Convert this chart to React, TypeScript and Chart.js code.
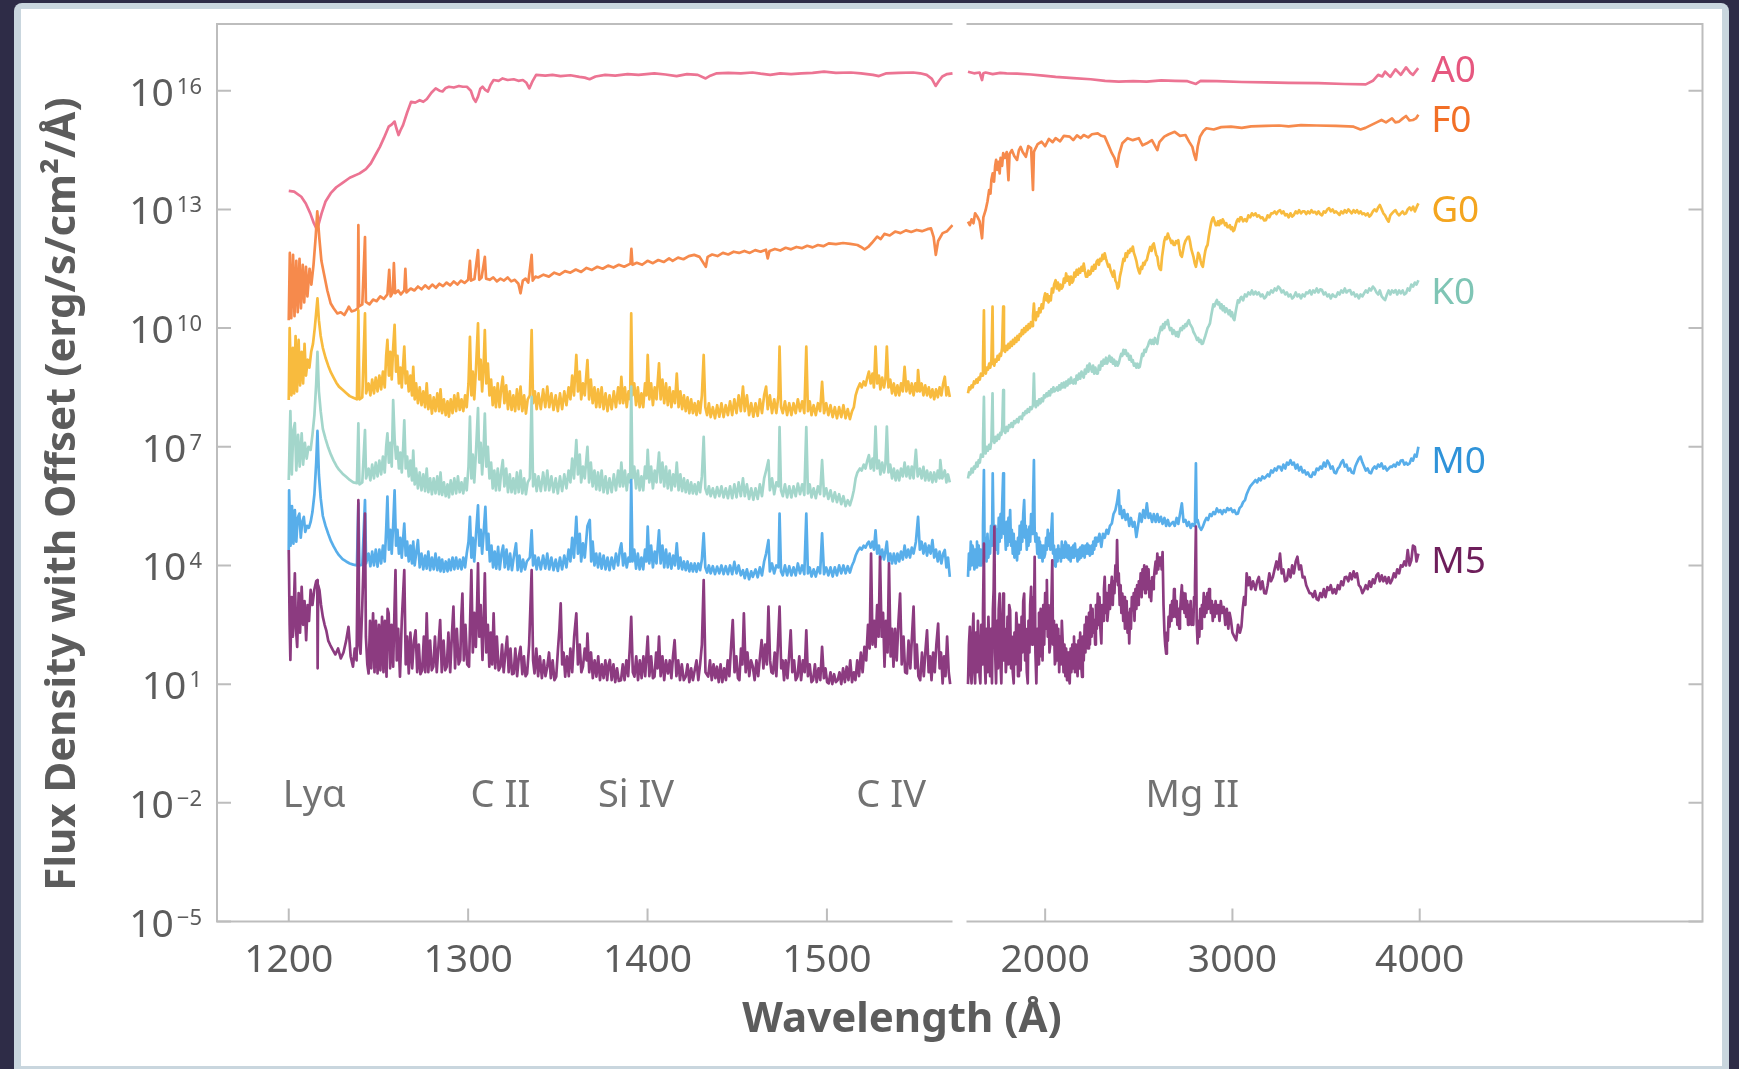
import React, { useEffect, useRef } from 'react';
import { Chart, registerables } from 'chart.js';
Chart.register(...registerables);

// Each series: flat list of pairs  wavelength (Å), log10 flux density (with offset)
const A0_LEFT = [1200,13.47,1203,13.45,1207,13.32,1209.5,13.15,1212,12.9,1214,12.65,1215.4,12.52,1216.5,12.6,1218.3,12.9,1220.5,13.2,1223.4,13.41,1226.5,13.56,1229.6,13.66,1234,13.8,1239.5,13.91,1243,14.02,1245.7,14.16,1248,14.35,1250.8,14.58,1253,14.8,1255.7,15.09,1257.5,15.15,1259,15.22,1260,15.05,1261.2,14.88,1262.3,15.0,1263.7,15.13,1266,15.45,1268.2,15.72,1270.5,15.7,1273,15.76,1275,15.72,1277,15.79,1279.5,15.95,1281.9,16.06,1284,16.0,1285.7,15.98,1287.5,16.07,1289.3,16.1,1292,16.08,1294.9,16.12,1297,16.1,1299.3,16.1,1301.5,16.0,1303,15.8,1304.2,15.72,1305.5,15.85,1306.8,16.05,1308,16.1,1309.5,16.02,1311,15.98,1312.5,16.15,1314.2,16.27,1317,16.25,1319.2,16.31,1322,16.27,1325.4,16.29,1328,16.25,1330.5,16.27,1332.5,16.2,1334.1,16.06,1336,16.25,1337.9,16.4,1343,16.38,1347,16.4,1351.5,16.37,1357,16.39,1362,16.35,1365,16.33,1367.7,16.29,1371,16.36,1376.4,16.4,1382,16.38,1388.9,16.42,1395,16.4,1403.8,16.44,1410,16.41,1416.2,16.37,1422,16.42,1428,16.4,1432.4,16.31,1435,16.38,1438.6,16.44,1445,16.45,1452,16.44,1458.5,16.46,1463,16.43,1468.4,16.4,1474,16.44,1480,16.42,1485.8,16.44,1492,16.45,1498.4,16.48,1505,16.45,1513.3,16.46,1519,16.44,1525.7,16.4,1529,16.37,1533.2,16.44,1540,16.45,1548.1,16.46,1552,16.44,1555.6,16.4,1558.5,16.3,1560.6,16.12,1562.5,16.25,1564.3,16.36,1567,16.42,1570,16.44];
const A0_RIGHT = [1588,16.48,1620,16.44,1650,16.46,1663,16.27,1670,16.44,1682,16.46,1720,16.42,1760,16.45,1794,16.44,1850,16.43,1925,16.41,1990,16.38,2056,16.35,2150,16.32,2243,16.29,2320,16.25,2393,16.23,2470,16.24,2542,16.23,2620,16.26,2692,16.25,2760,16.24,2805,16.17,2830,16.25,2917,16.24,3050,16.22,3179,16.21,3300,16.2,3459,16.19,3600,16.17,3712,16.16,3750,16.25,3778,16.4,3800,16.36,3815,16.48,3843,16.35,3871,16.54,3899,16.4,3927,16.59,3950,16.45,3964,16.4,3992,16.57];

const F0_LEFT = [1200,10.2,1200.6,11.9,1201.4,10.25,1202.4,11.85,1203.2,10.3,1204.2,11.7,1205,10.4,1206,11.75,1206.8,10.5,1207.8,11.6,1208.6,10.65,1209.6,11.55,1210.4,10.8,1211.6,11.5,1212.6,11.1,1213.8,11.6,1215,12.3,1215.9,12.95,1217,12.3,1218.2,11.7,1219.6,11.38,1221.5,10.95,1223.4,10.62,1225,10.5,1227.1,10.37,1229,10.4,1231,10.33,1232.5,10.45,1233.5,10.54,1235,10.42,1237,10.45,1238.5,10.5,1238.8,12.6,1239.2,10.55,1241,10.6,1242.5,12.3,1243,10.66,1245,10.6,1247,10.72,1249,10.68,1251,10.8,1253,10.74,1255,10.85,1256,11.47,1256.8,10.8,1258,10.9,1258.6,11.64,1259.3,10.88,1261,10.95,1262.5,10.85,1264.4,10.95,1265,11.5,1265.6,10.9,1268,11.0,1270,10.95,1272,11.05,1274,10.98,1276,11.08,1278,11.0,1280,11.1,1282,11.02,1284,11.12,1286,11.06,1288,11.15,1290,11.08,1292,11.18,1294,11.1,1296,11.2,1298,11.14,1300,11.22,1301,11.7,1301.6,11.2,1303.5,11.24,1305.5,11.97,1306.2,11.22,1307.5,11.28,1309.3,11.8,1310,11.25,1312,11.22,1314,11.28,1316,11.18,1318,11.25,1320,11.2,1322,11.28,1324,11.18,1326,11.22,1328,11.12,1329.2,10.88,1330.5,11.2,1332,11.25,1333.5,11.15,1335.4,11.85,1336,11.2,1337.5,11.3,1339,11.28,1342,11.35,1345,11.3,1348,11.4,1351,11.35,1354,11.44,1357,11.4,1360,11.48,1363,11.42,1366,11.52,1369,11.47,1372,11.55,1375,11.5,1378,11.58,1381,11.53,1384,11.6,1387,11.55,1390.5,11.63,1391,12.0,1391.6,11.6,1394,11.65,1397,11.6,1400,11.7,1403,11.64,1406,11.72,1409,11.67,1412,11.76,1414,11.7,1417,11.78,1420,11.74,1423,11.82,1426,11.85,1429,11.8,1432.5,11.55,1433.5,11.8,1436,11.86,1439,11.82,1442,11.9,1445,11.86,1448,11.93,1451,11.9,1454,11.95,1457,11.9,1460,11.97,1463,11.93,1466,11.98,1467,11.76,1468,11.95,1471,12.0,1474,11.96,1477,12.03,1480,11.99,1483,12.05,1486,12.02,1489,12.08,1492,12.04,1495,12.1,1498,12.07,1501,12.14,1505,12.12,1509,12.15,1513,12.13,1517,12.1,1519,12.05,1521,11.99,1523,12.05,1525,12.15,1528,12.31,1530,12.25,1532,12.38,1535,12.34,1538,12.44,1541,12.4,1544,12.47,1547,12.43,1550,12.48,1553,12.45,1556,12.5,1558,12.52,1559.5,12.3,1560.7,11.85,1562,12.2,1564.5,12.4,1567,12.45,1570,12.6];
const F0_RIGHT = [1588,12.69,1598,12.6,1607,12.75,1617,12.65,1626,12.9,1640,12.8,1650,12.7,1663,12.27,1670,12.8,1682,12.98,1692,13.2,1701,13.49,1708,13.4,1713,13.75,1720,13.91,1727,13.7,1733,14.1,1738,14.25,1745,14.0,1750,14.2,1757,13.91,1762,14.3,1770,14.1,1776,14.42,1785,14.3,1795,14.45,1804,13.74,1810,14.4,1822,14.5,1835,14.35,1850,14.25,1860,14.5,1869,14.58,1880,14.45,1897,14.33,1910,14.6,1925,14.55,1935,13.49,1940,14.45,1944,14.5,1960,14.65,1981,14.71,2000,14.6,2020,14.78,2040,14.7,2056,14.8,2080,14.72,2100,14.86,2131,14.84,2150,14.75,2170,14.87,2190,14.8,2206,14.88,2230,14.82,2250,14.9,2281,14.92,2300,14.86,2318,14.84,2340,14.6,2356,14.42,2370,14.3,2384,14.08,2395,14.4,2412,14.67,2440,14.8,2468,14.75,2500,14.8,2520,14.62,2543,14.67,2570,14.75,2599,14.5,2610,14.7,2636,14.84,2660,14.9,2692,14.96,2720,14.86,2749,14.88,2770,14.7,2786,14.58,2795,14.4,2805,14.25,2815,14.6,2827,14.84,2845,14.98,2861,15.05,2900,15.02,2940,15.08,2992,15.09,3050,15.06,3100,15.1,3179,15.11,3250,15.12,3300,15.1,3366,15.13,3450,15.12,3553,15.11,3620,15.1,3647,15.09,3684,15.02,3710,15.06,3740,15.13,3770,15.2,3796,15.26,3820,15.2,3852,15.3,3870,15.2,3890,15.22,3910,15.3,3927,15.36,3945,15.25,3964,15.26,3980,15.3,3993,15.39];

const G0_LEFT = [1200,8.18,1200.5,10.0,1201.5,8.3,1202.3,9.5,1203,8.35,1203.8,9.8,1204.6,8.4,1205.5,9.7,1206.3,8.55,1207.2,9.4,1208,8.6,1208.8,9.6,1209.6,8.8,1210.6,9.2,1211.5,9.0,1212.5,9.4,1213.5,9.6,1214.5,10.0,1215.3,10.4,1216,10.75,1216.8,10.2,1217.8,9.8,1219,9.5,1220.5,9.25,1222,9.05,1223.5,8.88,1225,8.75,1226.5,8.62,1228,8.52,1230,8.44,1232,8.36,1234,8.28,1236,8.24,1238,8.2,1238.8,10.45,1239.4,8.2,1241,8.25,1242.5,10.37,1243.1,8.35,1244.5,8.6,1245.5,8.3,1246.5,8.7,1247.5,8.35,1248.5,8.75,1249.5,8.4,1250.5,8.8,1251.5,8.45,1252.5,8.9,1253.5,8.5,1254.3,9.3,1255,9.7,1255.8,8.8,1256.6,9.4,1257.4,8.7,1258.2,9.5,1259,10.08,1259.8,8.9,1260.6,9.3,1261.4,8.6,1262.2,9.0,1263,8.5,1263.8,9.1,1264.4,9.53,1265.2,8.6,1266,8.9,1266.9,8.4,1267.8,8.8,1268.7,8.3,1269.4,9.02,1270.2,8.2,1271,8.6,1272,8.1,1273,8.5,1274,8.05,1275,8.4,1276,8.0,1276.9,8.6,1277.8,7.95,1278.8,8.3,1279.8,7.84,1280.8,8.25,1281.8,7.9,1282.8,8.35,1283.8,7.9,1284.6,8.45,1285.5,7.85,1286.5,8.2,1287.5,7.8,1288.5,8.15,1289.3,7.76,1290.3,8.2,1291.3,7.85,1292.3,8.3,1293.3,7.9,1294.3,8.35,1295.3,7.93,1296.3,8.2,1297.3,7.9,1298.3,8.3,1299.2,8.0,1300.2,8.6,1301,9.78,1301.8,8.3,1302.6,8.9,1303.4,8.2,1304.4,9.0,1305.5,10.12,1306.2,8.7,1307,9.2,1307.8,8.4,1308.6,9.0,1309.3,9.95,1310.1,8.6,1311,9.1,1311.9,8.3,1312.8,8.7,1313.7,8.05,1314.6,8.5,1315.5,8.0,1316.5,8.6,1317.5,8.0,1318.5,8.5,1319.3,8.77,1320.2,8.1,1321.2,8.55,1322.2,7.95,1323.2,8.4,1324.2,7.93,1325.2,8.3,1326.2,7.9,1327.2,8.45,1328.2,7.95,1329.2,8.52,1330.2,7.9,1331.2,8.3,1332.2,7.84,1333.2,8.2,1334.4,8.3,1335.4,9.95,1336.2,8.1,1337.2,8.4,1338.2,7.95,1339.2,8.35,1340.5,7.95,1341.8,8.45,1343,8.0,1344.1,8.52,1345.2,8.0,1346.4,8.35,1347.6,7.93,1348.8,8.3,1350,7.9,1351.2,8.35,1352.4,7.95,1353.6,8.4,1354.8,8.05,1356,8.5,1357,8.2,1358,8.8,1359,8.3,1360.3,9.32,1361.2,8.4,1362.2,8.9,1363,8.2,1364,8.6,1365,8.3,1366.5,9.19,1367.4,8.2,1368.4,8.7,1369.4,8.1,1370.4,8.5,1371.4,8.0,1372.4,8.45,1373.4,8.0,1374.4,8.5,1375.5,7.95,1376.6,8.35,1377.7,7.9,1378.8,8.3,1380,7.95,1381.2,8.4,1382.4,8.0,1383.6,8.5,1384.6,8.1,1385.4,8.77,1386.4,8.1,1387.4,8.5,1388.4,8.0,1389.4,8.4,1390.3,8.2,1390.9,10.37,1391.6,8.3,1392.6,8.6,1393.6,8.05,1394.6,8.5,1395.6,8.0,1396.6,8.35,1397.6,8.0,1398.6,8.6,1399.4,8.3,1400.1,9.32,1401,8.2,1402,8.6,1403,8.05,1404,8.5,1405,8.2,1406.4,9.11,1407.3,8.2,1408.3,8.7,1409.3,8.1,1410.3,8.6,1411.3,8.05,1412.3,8.5,1413.3,8.0,1414.3,8.4,1415.3,8.1,1416.3,8.85,1417.3,8.0,1418.3,8.4,1419.3,7.95,1420.3,8.3,1421.3,7.9,1422.3,8.25,1423.3,7.85,1424.3,8.2,1425.3,7.85,1426.3,8.1,1427.3,7.8,1428.3,8.15,1429.3,7.85,1430.3,8.3,1431.3,9.32,1432.2,8.0,1433.2,7.8,1434.2,8.1,1435.2,7.75,1436.4,8.0,1437.6,7.72,1438.8,8.05,1440,7.76,1441.2,8.1,1442.4,7.75,1443.6,8.05,1444.8,7.8,1446,8.15,1447.2,7.8,1448.4,8.2,1449.6,7.85,1450.8,8.3,1452,7.9,1453.2,8.52,1454.2,7.9,1455.4,8.3,1456.6,7.8,1457.8,8.1,1459,7.76,1460.2,8.1,1461.4,7.78,1462.6,8.2,1463.8,7.85,1465,8.3,1466.1,8.52,1467,7.95,1468.2,8.3,1469.4,7.85,1470.6,8.2,1471.8,7.85,1473,8.3,1473.6,9.53,1474.4,8.0,1475.4,7.85,1476.6,8.15,1477.8,7.8,1479,8.1,1480.2,7.8,1481.4,8.1,1482.6,7.85,1483.8,8.2,1485,7.9,1486.2,8.15,1487.4,7.85,1488.5,9.53,1489.4,7.9,1490.4,8.15,1491.4,7.8,1492.6,8.05,1493.8,7.8,1495,8.1,1496.2,7.9,1497.3,8.64,1498.4,7.85,1499.6,8.1,1500.8,7.8,1502,8.05,1503.2,7.75,1504.4,8.0,1505.6,7.72,1506.8,8.0,1508,7.75,1509.2,8.05,1510.4,7.72,1511.6,7.95,1512.8,7.7,1514,7.9,1515,8.0,1516,8.3,1517,8.45,1518.4,8.6,1519.4,8.5,1520.5,8.65,1521.5,8.55,1522.5,8.75,1523.4,8.9,1524.4,8.6,1525.4,8.85,1526.2,8.5,1527.1,9.53,1528,8.6,1529,8.8,1529.8,8.45,1530.8,8.75,1531.8,8.5,1532.6,8.7,1533.4,9.53,1534.3,8.5,1535.3,8.7,1536.3,8.35,1537.3,8.6,1538.3,8.3,1539.3,8.55,1540.3,8.3,1541.3,8.6,1542.3,8.4,1543.3,9.02,1544.3,8.4,1545.3,8.65,1546.3,8.35,1547.3,8.6,1548.3,8.3,1549.3,8.6,1550.3,8.4,1550.8,8.94,1551.8,8.4,1552.8,8.6,1553.8,8.3,1554.8,8.55,1555.8,8.3,1556.8,8.5,1557.8,8.25,1558.8,8.45,1559.8,8.2,1560.8,8.45,1561.8,8.25,1562.8,8.5,1563.8,8.3,1564.8,8.6,1565.7,8.77,1566.6,8.3,1567.5,8.5,1568.5,8.26];
const G0_RIGHT = [1588,8.35,1594,8.5,1600,8.45,1607,8.55,1613,8.5,1620,8.65,1626,8.6,1633,8.7,1639,8.62,1645,8.75,1651,8.7,1657,8.85,1663,8.8,1668,9.1,1673,10.45,1677,8.9,1683,8.85,1689,9.0,1695,8.95,1701,9.1,1707,9.0,1713,9.2,1719,10.54,1722,9.11,1728,9.05,1734,9.2,1740,9.15,1746,9.3,1752,9.2,1758,9.35,1764,9.3,1770,9.5,1776,10.54,1780,9.44,1786,9.4,1792,9.55,1798,9.45,1804,9.6,1810,9.5,1816,9.65,1822,9.55,1828,9.7,1834,9.6,1840,9.75,1846,9.65,1852,9.8,1858,9.7,1864,9.85,1870,9.8,1876,9.95,1882,9.85,1888,10.0,1894,9.9,1900,10.05,1906,9.95,1912,10.1,1918,10.0,1924,10.15,1930,10.05,1935,10.3,1940,10.62,1944,10.3,1950,10.2,1956,10.4,1962,10.3,1968,10.5,1975,10.4,1981,10.6,1988,10.5,1994,10.75,2000,10.88,2006,10.7,2012,10.85,2018,10.65,2024,10.8,2030,10.7,2036,11.0,2042,10.9,2048,11.1,2056,11.21,2062,11.0,2068,11.15,2075,10.95,2081,11.1,2088,11.0,2094,11.05,2100,11.25,2106,11.15,2112,11.38,2118,11.2,2125,11.3,2131,11.1,2138,11.3,2144,11.15,2150,11.2,2156,11.4,2162,11.3,2168,11.47,2175,11.35,2181,11.5,2187,11.4,2194,11.55,2200,11.45,2206,11.63,2212,11.45,2218,11.3,2225,11.3,2231,11.45,2237,11.35,2243,11.38,2250,11.55,2256,11.45,2262,11.6,2268,11.5,2275,11.68,2281,11.72,2287,11.6,2293,11.75,2300,11.7,2306,11.85,2312,11.75,2318,11.89,2325,11.75,2331,11.65,2337,11.55,2343,11.6,2350,11.45,2356,11.38,2362,11.3,2368,11.45,2375,11.2,2381,11.15,2387,11.0,2393,11.05,2399,11.3,2406,11.45,2412,11.6,2418,11.75,2424,11.7,2430,11.89,2437,11.8,2443,11.95,2449,11.9,2456,12.0,2462,11.95,2468,12.06,2474,11.9,2481,11.8,2487,11.7,2493,11.55,2499,11.45,2505,11.38,2512,11.55,2518,11.5,2524,11.65,2530,11.6,2537,11.7,2543,11.72,2549,11.85,2555,11.95,2561,12.05,2568,11.95,2574,12.1,2580,12.14,2586,12.0,2593,11.85,2599,11.8,2605,11.6,2611,11.5,2618,11.47,2624,11.8,2630,12.0,2636,12.2,2642,12.3,2649,12.25,2655,12.39,2661,12.3,2667,12.25,2674,12.15,2680,12.2,2686,12.1,2692,12.1,2699,12.2,2705,12.15,2711,12.22,2717,12.0,2723,11.85,2730,11.8,2736,11.95,2742,12.1,2749,12.2,2755,12.25,2761,12.3,2767,12.31,2773,12.2,2780,12.0,2786,11.9,2792,11.8,2798,11.65,2805,11.55,2811,11.7,2817,11.9,2823,11.85,2830,11.7,2836,11.6,2842,11.55,2848,11.75,2855,11.95,2861,12.05,2867,12.1,2873,12.3,2880,12.5,2886,12.65,2892,12.75,2898,12.8,2904,12.7,2911,12.6,2917,12.6,2923,12.7,2929,12.6,2936,12.72,2942,12.65,2948,12.75,2954,12.69,2961,12.6,2967,12.65,2973,12.55,2980,12.55,2986,12.6,2992,12.5,2998,12.55,3004,12.45,3010,12.48,3017,12.6,3023,12.7,3029,12.75,3036,12.7,3042,12.8,3048,12.8,3057,12.7,3067,12.75,3076,12.7,3085,12.85,3095,12.8,3104,12.9,3113,12.85,3123,12.9,3132,12.82,3141,12.85,3151,12.78,3160,12.8,3170,12.72,3179,12.73,3188,12.85,3197,12.8,3207,12.9,3216,12.9,3226,12.95,3235,12.88,3244,12.95,3254,12.98,3263,12.9,3272,12.95,3282,12.85,3291,12.88,3300,12.8,3310,12.9,3319,12.82,3328,12.86,3338,12.95,3347,12.9,3356,12.98,3366,12.9,3375,12.95,3385,12.95,3394,12.88,3403,12.95,3413,12.9,3422,12.98,3431,12.92,3441,12.94,3450,12.88,3459,12.95,3469,12.88,3478,12.85,3488,12.95,3497,12.92,3507,13.0,3516,13.03,3525,12.95,3535,13.0,3544,12.92,3553,12.95,3563,12.9,3572,12.86,3581,12.95,3591,12.9,3600,12.98,3609,12.92,3619,13.0,3628,12.95,3637,12.9,3647,12.98,3656,12.92,3665,12.98,3675,12.9,3684,12.95,3694,12.88,3703,12.9,3712,12.85,3722,12.9,3731,12.82,3740,12.86,3750,12.95,3759,13.0,3769,12.95,3778,13.05,3787,13.11,3797,13.0,3806,12.9,3815,12.85,3825,12.75,3834,12.69,3843,12.85,3852,12.9,3862,12.95,3871,12.98,3880,12.9,3890,12.85,3899,12.9,3909,12.95,3918,12.88,3927,12.9,3936,13.0,3946,13.05,3955,12.98,3965,13.07,3974,12.95,3983,13.05,3993,13.15];

const K0_LEFT = [1200,6.16,1200.9,7.9,1201.7,6.3,1202.5,7.4,1203.4,7.6,1204.2,6.4,1205.2,7.3,1206.1,6.5,1207.2,7.34,1208,6.55,1209,7.1,1210,6.7,1211,7.0,1212.2,6.92,1213.2,7.3,1214.3,7.8,1215.3,8.6,1216,9.4,1216.8,8.4,1217.8,7.9,1219,7.45,1220.5,7.2,1222,6.98,1223.5,6.8,1225,6.65,1226.5,6.52,1228,6.42,1230,6.32,1232,6.24,1234,6.16,1236,6.1,1238,6.08,1238.8,7.59,1239.4,6.05,1241,6.1,1242.5,7.42,1243.1,6.2,1244.5,6.45,1245.5,6.15,1246.5,6.55,1247.5,6.2,1248.5,6.6,1249.5,6.25,1250.5,6.65,1251.5,6.3,1252.5,6.75,1253.5,6.35,1254.3,7.0,1255,7.34,1255.8,6.6,1256.6,7.1,1257.4,6.5,1258.2,8.18,1259,7.2,1259.8,6.7,1260.6,7.0,1261.4,6.45,1262.2,6.85,1263,6.35,1263.8,7.0,1264.4,7.67,1265.2,6.45,1266,6.75,1266.9,6.25,1267.8,6.65,1268.7,6.15,1269.4,6.9,1270.2,6.05,1271,6.45,1272,5.95,1273,6.35,1274,5.9,1275,6.3,1276,5.88,1276.9,6.45,1277.8,5.85,1278.8,6.2,1279.8,5.8,1280.8,6.2,1281.8,5.82,1282.8,6.25,1283.8,5.8,1284.6,6.35,1285.5,5.78,1286.5,6.1,1287.5,5.75,1288.5,6.05,1289.3,5.72,1290.3,6.15,1291.3,5.8,1292.3,6.2,1293.3,5.82,1294.3,6.25,1295.3,5.85,1296.3,6.1,1297.3,5.82,1298.3,6.2,1299.2,5.9,1300.2,6.5,1301,7.76,1301.8,6.2,1302.6,6.8,1303.4,6.1,1304.4,6.9,1305.5,7.98,1306.2,6.6,1307,7.1,1307.8,6.3,1308.6,6.9,1309.3,7.84,1310.1,6.5,1311,7.0,1311.9,6.2,1312.8,6.6,1313.7,5.95,1314.6,6.4,1315.5,5.9,1316.5,6.45,1317.5,5.9,1318.5,6.4,1319.3,6.66,1320.2,6.0,1321.2,6.45,1322.2,5.85,1323.2,6.3,1324.2,5.85,1325.2,6.2,1326.2,5.82,1327.2,6.35,1328.2,5.85,1329.2,6.4,1330.2,5.82,1331.2,6.2,1332.2,5.8,1333.2,6.1,1334.4,6.2,1335.4,8.26,1336.2,6.0,1337.2,6.3,1338.2,5.88,1339.2,6.25,1340.5,5.88,1341.8,6.35,1343,5.9,1344.1,6.4,1345.2,5.9,1346.4,6.25,1347.6,5.85,1348.8,6.2,1350,5.82,1351.2,6.25,1352.4,5.88,1353.6,6.3,1354.8,5.95,1356,6.4,1357,6.1,1358,6.7,1359,6.2,1360.3,7.17,1361.2,6.3,1362.2,6.8,1363,6.1,1364,6.5,1365,6.2,1366.5,7.0,1367.4,6.1,1368.4,6.6,1369.4,6.0,1370.4,6.4,1371.4,5.92,1372.4,6.35,1373.4,5.9,1374.4,6.4,1375.5,5.85,1376.6,6.25,1377.7,5.82,1378.8,6.2,1380,5.85,1381.2,6.3,1382.4,5.9,1383.6,6.4,1384.6,6.0,1385.4,6.6,1386.4,6.0,1387.4,6.4,1388.4,5.9,1389.4,6.3,1390.3,6.1,1390.9,8.52,1391.6,6.2,1392.6,6.5,1393.6,5.95,1394.6,6.4,1395.6,5.9,1396.6,6.25,1397.6,5.9,1398.6,6.5,1399.4,6.2,1400.1,6.92,1401,6.1,1402,6.5,1403,5.95,1404,6.4,1405,6.1,1406.4,6.85,1407.3,6.1,1408.3,6.6,1409.3,6.0,1410.3,6.5,1411.3,5.95,1412.3,6.4,1413.3,5.9,1414.3,6.3,1415.3,6.0,1416.3,6.6,1417.3,5.9,1418.3,6.3,1419.3,5.88,1420.3,6.2,1421.3,5.85,1422.3,6.15,1423.3,5.82,1424.3,6.1,1425.3,5.82,1426.3,6.05,1427.3,5.8,1428.3,6.1,1429.3,5.85,1430.3,6.25,1431.3,7.25,1432.2,5.95,1433.2,5.8,1434.2,6.0,1435.2,5.75,1436.4,5.95,1437.6,5.72,1438.8,5.98,1440,5.75,1441.2,6.0,1442.4,5.72,1443.6,5.95,1444.8,5.7,1446,6.0,1447.2,5.7,1448.4,6.05,1449.6,5.72,1450.8,6.1,1452,5.75,1453.2,6.2,1454.2,5.75,1455.4,6.05,1456.6,5.68,1457.8,5.95,1459,5.66,1460.2,5.95,1461.4,5.68,1462.6,6.05,1463.8,5.75,1465,6.2,1466.1,6.4,1467.4,6.66,1468.2,5.9,1469.4,6.2,1470.6,5.8,1471.8,6.1,1473,6.0,1473.6,7.5,1474.4,5.9,1475.4,5.75,1476.6,6.05,1477.8,5.72,1479,6.0,1480.2,5.72,1481.4,6.0,1482.6,5.75,1483.8,6.07,1485,5.8,1486.2,6.05,1487.4,5.78,1488.5,7.5,1489.4,5.82,1490.4,6.05,1491.4,5.72,1492.6,5.95,1493.8,5.7,1495,6.0,1496.2,5.8,1497.3,6.66,1498.4,5.75,1499.6,5.95,1500.8,5.68,1502,5.9,1503.2,5.62,1504.4,5.85,1505.6,5.6,1506.8,5.8,1508,5.55,1509.2,5.75,1510.4,5.5,1511.6,5.65,1512.8,5.52,1514,5.7,1515,5.9,1516,6.2,1517,6.35,1518.4,6.45,1519.4,6.4,1520.5,6.55,1521.5,6.45,1522.5,6.65,1523.4,6.79,1524.4,6.45,1525.4,6.7,1526.2,6.4,1527.1,7.51,1528,6.45,1529,6.65,1529.8,6.3,1530.8,6.6,1531.8,6.35,1532.6,6.55,1533.4,7.51,1534.3,6.35,1535.3,6.55,1536.3,6.2,1537.3,6.45,1538.3,6.15,1539.3,6.4,1540.3,6.15,1541.3,6.45,1542.3,6.25,1543.3,6.6,1544.3,6.25,1545.3,6.5,1546.3,6.2,1547.3,6.5,1548.3,6.2,1549.6,6.92,1550.6,6.25,1551.8,6.45,1552.8,6.2,1553.8,6.49,1554.8,6.15,1555.8,6.4,1556.8,6.15,1557.8,6.35,1558.8,6.1,1559.8,6.35,1560.8,6.12,1561.8,6.4,1562.8,6.2,1563.2,6.66,1564.3,6.2,1565.7,6.4,1566.6,6.1,1567.5,6.3,1568.5,6.1];
const K0_RIGHT = [1588,6.2,1594,6.35,1600,6.3,1607,6.45,1613,6.35,1620,6.5,1626,6.45,1633,6.6,1639,6.5,1645,6.66,1651,6.6,1657,6.8,1663,6.75,1668,7.1,1673,8.26,1677,6.9,1682,6.83,1688,7.0,1694,6.9,1701,7.05,1707,6.95,1713,7.15,1719,8.35,1722,7.2,1729,7.1,1735,7.25,1741,7.15,1748,7.3,1754,7.2,1760,7.35,1766,7.3,1771,7.5,1776,8.43,1780,7.42,1787,7.35,1794,7.5,1800,7.4,1807,7.55,1813,7.5,1820,7.6,1827,7.5,1834,7.65,1841,7.6,1850,7.7,1857,7.62,1863,7.75,1869,7.76,1876,7.7,1882,7.85,1888,7.8,1895,7.9,1901,7.85,1907,7.95,1914,7.88,1920,8.0,1927,7.95,1935,8.05,1940,8.85,1944,8.1,1950,8.0,1956,8.15,1962,8.05,1968,8.2,1975,8.1,1981,8.22,1988,8.15,1994,8.3,2000,8.25,2007,8.35,2013,8.28,2020,8.4,2026,8.3,2032,8.45,2038,8.38,2044,8.5,2050,8.4,2056,8.43,2063,8.5,2069,8.42,2075,8.55,2081,8.45,2088,8.6,2094,8.5,2100,8.62,2106,8.5,2113,8.65,2119,8.55,2125,8.7,2131,8.6,2138,8.75,2144,8.62,2150,8.6,2156,8.7,2162,8.6,2168,8.8,2175,8.7,2181,8.85,2187,8.72,2194,8.9,2200,8.8,2206,8.75,2212,8.95,2218,8.85,2225,9.05,2231,8.9,2237,9.1,2243,9.02,2250,8.9,2256,9.05,2262,8.85,2268,9.0,2275,8.85,2281,8.85,2287,9.05,2293,8.95,2300,9.15,2306,9.05,2312,9.2,2318,9.1,2325,9.25,2331,9.1,2337,9.19,2343,9.3,2350,9.15,2356,9.25,2362,9.1,2368,9.2,2375,9.05,2381,9.15,2387,9.05,2393,9.11,2400,9.25,2406,9.35,2412,9.3,2418,9.45,2424,9.35,2430,9.44,2437,9.3,2443,9.35,2449,9.2,2456,9.3,2462,9.15,2468,9.19,2474,9.05,2481,9.1,2487,9.0,2493,9.1,2499,9.0,2505,9.02,2512,9.2,2518,9.35,2524,9.3,2530,9.45,2537,9.4,2543,9.5,2549,9.55,2555,9.65,2561,9.7,2568,9.6,2574,9.7,2580,9.6,2586,9.75,2593,9.65,2599,9.6,2605,9.8,2611,9.9,2618,10.03,2624,9.95,2630,10.1,2636,10.0,2642,10.15,2649,10.1,2655,10.2,2661,10.05,2667,9.95,2674,10.0,2680,9.85,2686,9.95,2692,9.9,2699,9.8,2705,9.9,2711,9.78,2717,9.9,2723,10.0,2730,9.95,2736,10.05,2742,10.0,2749,10.1,2755,10.05,2761,10.15,2767,10.2,2773,10.1,2780,10.05,2786,10.0,2792,9.9,2798,9.85,2805,9.78,2811,9.7,2817,9.75,2823,9.65,2830,9.7,2836,9.6,2842,9.61,2848,9.7,2855,9.8,2861,9.9,2867,10.0,2873,10.05,2880,10.12,2886,10.3,2892,10.45,2898,10.6,2904,10.55,2911,10.65,2917,10.71,2923,10.6,2929,10.65,2936,10.5,2942,10.6,2948,10.45,2954,10.55,2961,10.4,2967,10.5,2973,10.45,2980,10.35,2986,10.45,2992,10.3,2998,10.4,3004,10.25,3010,10.2,3017,10.4,3023,10.55,3029,10.7,3036,10.65,3042,10.75,3048,10.79,3057,10.7,3067,10.85,3076,10.8,3085,10.9,3095,10.85,3104,10.95,3113,10.85,3123,10.92,3132,10.85,3141,10.9,3151,10.8,3160,10.85,3170,10.75,3179,10.79,3188,10.9,3197,10.85,3207,10.95,3216,10.9,3226,11.0,3235,10.95,3244,11.05,3254,11.0,3263,10.9,3272,10.95,3282,10.85,3291,10.9,3300,10.8,3310,10.85,3319,10.75,3328,10.79,3338,10.9,3347,10.8,3356,10.85,3366,10.75,3375,10.85,3385,10.8,3394,10.9,3403,10.88,3413,10.95,3422,10.85,3431,10.95,3440,10.9,3450,11.0,3459,10.9,3469,10.98,3478,10.96,3488,10.85,3497,10.9,3507,10.8,3516,10.85,3525,10.75,3535,10.85,3544,10.8,3553,10.79,3563,10.9,3572,10.85,3581,10.95,3591,10.9,3600,11.0,3609,10.9,3619,10.95,3628,10.96,3637,10.85,3647,10.9,3656,10.8,3665,10.85,3675,10.75,3684,10.85,3694,10.8,3703,10.88,3712,10.95,3722,10.9,3731,11.0,3740,10.95,3750,11.05,3759,11.0,3769,10.9,3778,10.85,3787,10.95,3797,10.8,3806,10.75,3815,10.71,3825,10.85,3834,10.95,3843,10.85,3852,10.95,3862,10.9,3871,10.96,3880,10.85,3890,10.95,3899,10.88,3909,10.95,3918,10.85,3927,10.88,3936,11.0,3946,10.95,3955,11.1,3965,11.05,3974,11.15,3983,11.1,3993,11.21];

const M0_LEFT = [1200,4.39,1200.2,5.9,1201,4.5,1201.8,5.5,1202.6,4.55,1203.4,5.4,1204.2,4.6,1205,5.2,1205.9,5.31,1206.7,4.7,1207.5,5.1,1208.4,5.23,1209.2,4.85,1210.2,5.0,1211.2,4.95,1212.2,5.1,1213.2,5.35,1214.3,5.8,1215.3,6.6,1216,7.4,1216.8,6.3,1217.8,5.7,1219,5.25,1220.5,5.0,1222,4.8,1223.5,4.62,1225,4.48,1226.5,4.36,1228,4.26,1230,4.16,1232,4.1,1234,4.05,1236,4.02,1238,4.0,1238.8,5.57,1239.4,4.0,1241,4.02,1242.5,5.65,1243.1,4.05,1244.5,4.3,1245.5,3.98,1246.5,4.35,1247.5,4.0,1248.5,4.4,1249.5,3.97,1250.5,4.4,1251.5,4.05,1252.5,4.5,1253.5,4.1,1254.3,4.9,1255,5.74,1255.8,4.4,1256.6,4.9,1257.4,4.3,1258.2,5.0,1259,5.9,1259.8,4.5,1260.6,4.9,1261.4,4.3,1262.2,4.7,1263,4.2,1263.8,4.7,1264.4,5.06,1265.2,4.25,1266,4.6,1266.9,4.1,1267.8,4.5,1268.7,4.05,1269.4,4.6,1270.2,4.0,1271,4.3,1272,4.64,1273,3.95,1274,4.3,1275,3.9,1276,4.25,1276.9,3.92,1277.8,4.35,1278.8,3.88,1279.8,4.2,1280.8,3.9,1281.8,4.3,1282.8,3.88,1283.8,4.2,1284.6,3.85,1285.5,4.15,1286.5,3.84,1287.5,4.1,1288.5,3.85,1289.3,4.15,1290.3,3.88,1291.3,4.2,1292.3,3.9,1293.3,4.2,1294.3,3.92,1295.3,4.15,1296.3,3.9,1297.3,4.2,1298.3,3.95,1299.2,4.3,1300.2,4.6,1301,5.23,1301.8,4.2,1302.6,4.7,1303.4,4.1,1304.4,4.8,1305.5,5.52,1306.2,4.5,1307,4.9,1307.8,4.3,1308.6,4.8,1309.6,5.48,1310.5,4.4,1311.3,4.8,1312.1,4.1,1313,4.5,1313.9,3.95,1314.8,4.35,1315.7,3.92,1316.7,4.47,1317.6,3.9,1318.6,4.3,1319.5,4.5,1320.4,3.95,1321.4,4.4,1322.4,3.9,1323.4,4.3,1324.4,3.88,1325.4,4.2,1326.7,4.56,1327.6,3.88,1328.6,4.25,1329.6,3.85,1330.6,4.15,1331.7,3.9,1332.7,4.1,1334.4,4.2,1335.4,4.89,1336.2,4.0,1337.2,4.25,1338.2,3.9,1339.2,4.2,1340.5,3.9,1341.8,4.25,1343,3.92,1344.1,4.3,1345.2,3.9,1346.4,4.2,1347.6,3.88,1348.8,4.15,1350,3.86,1351.2,4.2,1352.4,3.9,1353.6,4.25,1354.8,3.95,1356,4.4,1357,4.1,1358,4.7,1359,4.2,1360.3,5.23,1361.2,4.3,1362.2,4.8,1363,4.1,1364,4.56,1365,4.2,1366.5,5.0,1367.8,5.15,1368.6,4.1,1369.4,4.6,1370.4,4.0,1371.4,4.3,1372.4,3.95,1373.4,4.3,1374.4,3.92,1375.5,4.25,1376.6,3.9,1377.7,4.2,1378.8,3.88,1380,4.2,1381.2,3.92,1382.4,4.3,1383.6,4.0,1384.6,4.4,1385.4,4.56,1386.4,4.0,1387.4,4.3,1388.4,3.95,1389.4,4.2,1390.3,4.1,1390.9,6.16,1391.6,4.1,1392.6,4.4,1393.6,3.92,1394.6,4.3,1395.6,3.9,1396.6,4.2,1397.6,3.9,1398.6,4.4,1399.4,4.1,1400.1,4.98,1401,4.05,1402,4.5,1403,3.95,1404,4.35,1405,4.05,1406.4,4.89,1407.3,4.05,1408.3,4.5,1409.3,3.95,1410.3,4.4,1411.3,3.95,1412.3,4.3,1413.3,3.92,1414.3,4.25,1415.3,4.0,1416.3,4.56,1417.3,3.92,1418.3,4.2,1419.3,3.9,1420.3,4.1,1421.3,3.88,1422.3,4.1,1423.3,3.85,1424.3,4.05,1425.3,3.85,1426.3,4.05,1427.3,3.84,1428.3,4.05,1429.3,3.88,1430.3,4.15,1431.3,4.81,1432.2,3.95,1433.2,3.82,1434.2,4.0,1435.2,3.8,1436.4,3.98,1437.6,3.78,1438.8,3.97,1440,3.8,1441.2,4.0,1442.4,3.78,1443.6,3.98,1444.8,3.78,1446,4.0,1447.2,3.78,1448.4,4.09,1449.6,3.8,1450.8,4.0,1452,3.75,1453.2,3.88,1454.2,3.68,1455.4,3.9,1456.6,3.65,1457.8,3.85,1458.7,3.71,1460.2,3.9,1461.4,3.7,1462.6,3.95,1463.8,3.75,1465,4.1,1466.1,4.3,1467.4,4.64,1468.2,3.85,1469.4,4.05,1470.6,3.8,1471.8,4.0,1473,3.95,1473.6,5.31,1474.4,3.85,1475.4,3.75,1476.6,4.0,1477.8,3.75,1479,3.98,1480.2,3.75,1481.4,3.95,1482.6,3.75,1483.8,4.05,1485,3.8,1486.2,4.0,1487.4,3.78,1488.5,5.31,1489.4,3.8,1490.4,3.95,1491.4,3.72,1492.6,3.9,1493.8,3.72,1495,3.95,1496.2,3.8,1497.3,4.81,1498.4,3.78,1499.6,3.95,1500.8,3.75,1502,3.95,1503.2,3.72,1504.4,3.95,1505.6,3.75,1506.8,4.0,1508,3.8,1509.2,4.0,1510.4,3.8,1511.6,3.98,1512.8,3.82,1514,4.0,1515,4.1,1516,4.25,1517,4.35,1518.4,4.45,1519.4,4.4,1520.5,4.5,1521.5,4.45,1522.5,4.55,1523.4,4.6,1524.4,4.45,1525.4,4.6,1526.2,4.4,1527.1,4.89,1528,4.3,1529,4.5,1529.8,4.15,1530.8,4.4,1531.8,4.15,1532.6,4.35,1533.4,4.6,1534.3,4.1,1535.3,4.3,1536.3,4.05,1537.3,4.3,1538.3,4.05,1539.3,4.3,1540.3,4.1,1541.3,4.35,1542.3,4.15,1543.3,4.5,1544.3,4.2,1545.3,4.4,1546.3,4.2,1547.3,4.45,1548.3,4.3,1549.6,4.6,1550.8,5.23,1551.8,4.4,1552.8,4.6,1553.8,4.3,1554.8,4.55,1555.8,4.25,1556.8,4.5,1557.8,4.3,1558.8,4.64,1559.8,4.2,1560.8,4.4,1561.8,4.1,1562.8,4.35,1563.8,4.05,1564.8,4.3,1565.7,4.39,1566.6,3.95,1567.5,4.2,1568.5,3.71];
const M0_RIGHT = [1588,3.71,1593,4.3,1598,3.9,1603,4.6,1607,4.0,1612,4.5,1617,4.39,1622,3.9,1626,4.4,1631,3.95,1636,4.6,1641,4.1,1645,4.5,1650,4.0,1655,4.4,1659,4.0,1663,4.13,1668,5.0,1673,6.41,1677,4.3,1682,4.7,1687,4.1,1692,4.8,1697,4.2,1701,4.6,1706,4.3,1711,5.0,1716,4.5,1720,6.33,1725,4.6,1729,4.47,1734,5.0,1738,4.4,1743,4.9,1748,4.3,1752,5.2,1757,4.6,1762,5.3,1766,4.7,1771,5.6,1776,6.33,1780,4.8,1785,4.98,1790,4.4,1794,5.1,1799,4.5,1804,5.2,1808,4.6,1813,5.4,1818,4.5,1822,4.9,1827,4.3,1832,4.8,1836,4.2,1841,4.6,1846,4.3,1850,4.13,1855,4.7,1860,4.3,1864,5.0,1869,4.4,1874,5.1,1878,4.6,1883,5.3,1888,5.65,1893,4.7,1897,5.0,1902,4.4,1907,4.9,1911,4.5,1916,4.98,1920,4.6,1925,5.3,1930,4.8,1935,5.5,1940,6.66,1944,4.9,1948,4.6,1953,4.81,1958,4.3,1962,4.7,1967,4.2,1972,4.6,1976,4.2,1981,4.5,1986,4.1,1990,4.5,1995,4.2,2000,4.3,2005,4.7,2009,4.4,2014,4.9,2018,4.5,2023,4.8,2028,4.4,2033,4.9,2038,5.31,2042,4.3,2047,4.5,2052,4.0,2056,3.97,2061,4.4,2066,4.1,2070,4.5,2075,4.2,2080,4.4,2084,4.1,2089,4.6,2094,4.2,2098,4.5,2103,4.2,2108,4.6,2112,4.56,2117,4.2,2122,4.5,2126,4.15,2131,4.4,2136,4.1,2140,4.45,2145,4.2,2150,4.5,2154,4.2,2159,4.55,2164,4.25,2168,4.39,2173,4.1,2178,4.4,2182,4.15,2187,4.45,2192,4.2,2197,4.5,2201,4.25,2206,4.4,2211,4.2,2215,4.5,2220,4.3,2225,4.55,2229,4.3,2234,4.5,2239,4.25,2243,4.3,2248,4.5,2253,4.3,2257,4.6,2262,4.4,2267,4.7,2271,4.5,2276,4.7,2281,4.6,2290,4.8,2300,4.47,2309,4.8,2318,4.7,2328,4.9,2337,4.8,2346,5.0,2356,5.06,2365,5.3,2375,5.4,2384,5.6,2393,5.9,2398,5.3,2403,5.5,2412,5.2,2421,5.4,2430,5.15,2440,5.3,2449,5.0,2458,5.2,2468,4.98,2477,5.1,2487,4.72,2496,5.0,2505,5.31,2515,5.1,2524,5.4,2534,5.2,2543,5.57,2552,5.2,2561,5.31,2571,5.1,2580,5.3,2590,5.1,2599,5.3,2608,5.1,2618,5.23,2627,5.05,2637,5.2,2646,5.0,2655,5.15,2664,5.0,2674,5.06,2683,5.1,2692,5.0,2702,5.2,2711,5.05,2720,5.3,2730,5.57,2739,5.1,2749,5.15,2758,5.0,2767,5.1,2777,4.95,2786,5.05,2795,5.0,2800,5.2,2805,6.58,2809,5.1,2814,5.15,2823,4.98,2833,4.9,2842,4.98,2851,5.1,2861,5.2,2870,5.15,2880,5.3,2889,5.25,2898,5.35,2907,5.3,2917,5.44,2926,5.35,2935,5.4,2945,5.3,2954,5.4,2964,5.35,2973,5.45,2982,5.4,2992,5.44,3001,5.35,3010,5.4,3020,5.3,3029,5.31,3038,5.45,3048,5.5,3057,5.6,3067,5.65,3076,5.8,3085,5.9,3095,6.0,3104,6.05,3113,6.1,3123,6.16,3132,6.1,3141,6.2,3151,6.15,3160,6.25,3170,6.2,3179,6.24,3188,6.3,3197,6.25,3207,6.4,3216,6.35,3226,6.45,3235,6.4,3244,6.5,3254,6.49,3263,6.4,3272,6.55,3282,6.45,3291,6.6,3300,6.55,3310,6.66,3319,6.55,3328,6.6,3338,6.45,3347,6.55,3356,6.4,3366,6.49,3375,6.35,3385,6.4,3394,6.3,3403,6.35,3413,6.25,3422,6.24,3431,6.35,3440,6.3,3450,6.45,3459,6.41,3469,6.5,3478,6.45,3488,6.6,3497,6.5,3507,6.65,3516,6.58,3525,6.45,3535,6.5,3544,6.35,3553,6.33,3563,6.45,3572,6.5,3581,6.6,3590,6.66,3600,6.5,3609,6.55,3619,6.4,3628,6.45,3637,6.35,3647,6.33,3656,6.5,3665,6.6,3675,6.7,3684,6.75,3694,6.6,3703,6.5,3712,6.4,3722,6.45,3731,6.35,3740,6.33,3750,6.45,3759,6.5,3769,6.45,3778,6.55,3787,6.5,3796,6.58,3806,6.45,3815,6.5,3825,6.4,3834,6.45,3843,6.5,3852,6.49,3862,6.55,3871,6.5,3880,6.6,3890,6.55,3899,6.65,3909,6.66,3918,6.55,3927,6.6,3936,6.55,3946,6.58,3955,6.7,3964,6.65,3974,6.8,3983,6.75,3993,7.0];

const M5_LEFT = [1200,4.39,1200.5,2.5,1200.9,1.61,1201.6,3.2,1202.3,2.2,1203.4,3.8,1204,2.4,1204.7,1.94,1205.5,3.3,1206.3,2.3,1207.2,3.46,1208,2.5,1208.8,3.1,1209.7,2.11,1210.5,3.0,1211.3,2.6,1212.2,3.38,1213.2,3.0,1214.3,3.4,1215.3,3.6,1215.9,3.63,1216.1,1.4,1216.4,3.5,1217.1,3.38,1218,3.0,1219,2.7,1220,2.5,1220.9,2.36,1222,2.1,1223,2.0,1224.6,1.86,1226,1.75,1227.5,1.9,1229,1.65,1230.5,1.8,1232,2.1,1233.3,2.45,1234.5,1.7,1235.8,1.44,1236.8,1.9,1237.8,1.6,1238.8,5.65,1239.3,2.0,1240,1.77,1241,3.0,1242.5,5.31,1243,2.2,1243.8,1.5,1244.5,1.27,1245.3,2.6,1246,1.4,1247,2.79,1247.8,1.3,1248.6,2.6,1249.5,1.27,1250.3,2.5,1251.1,1.35,1252,2.7,1252.8,1.3,1253.6,2.6,1254.5,1.19,1255.1,2.9,1255.7,2.79,1256.5,1.4,1257.3,2.5,1258.2,1.44,1259,3.0,1259.5,3.88,1260.2,1.6,1261,2.4,1262,1.19,1263,2.6,1264.4,3.88,1265.2,1.5,1266,2.2,1266.9,1.27,1267.8,2.3,1268.8,1.4,1269.8,2.1,1270.7,2.36,1271.6,1.3,1272.5,2.0,1273.4,1.25,1274.4,1.35,1275.3,2.2,1276.1,1.3,1276.9,2.79,1277.8,1.3,1278.8,2.1,1279.7,1.35,1280.6,1.44,1281.5,2.2,1282.5,1.3,1283.5,2.0,1284.4,2.62,1285.3,1.3,1286.3,2.1,1287.2,1.35,1288.1,1.44,1289,2.3,1290,1.3,1290.9,2.2,1291.8,2.96,1292.7,1.4,1293.7,2.4,1294.7,1.5,1295.6,1.61,1296.2,2.7,1296.8,3.29,1297.6,1.6,1298.5,2.5,1299.5,1.5,1300.5,1.44,1301.2,2.8,1301.8,3.88,1302.6,1.8,1303.4,2.8,1304.3,1.94,1305,3.0,1305.5,4.05,1306.2,2.2,1307,3.0,1308,1.61,1308.7,2.6,1309.3,3.8,1310.1,1.8,1311,2.5,1311.8,1.44,1312.6,2.3,1313.4,1.5,1314.2,2.79,1315.1,1.4,1316,2.2,1317,1.35,1318,1.44,1318.9,2.0,1319.8,1.3,1320.8,1.8,1321.7,2.2,1322.6,1.3,1323.6,1.9,1324.5,1.25,1325.4,1.27,1326.3,1.9,1327.3,1.2,1328.3,1.7,1329.2,1.94,1330.2,1.25,1331.1,1.7,1332,1.2,1332.9,1.27,1334,2.0,1335.4,3.88,1336.2,1.6,1337,1.27,1338,1.9,1339,1.2,1340,1.7,1341.1,1.15,1342.2,1.6,1343.1,1.2,1344.1,1.44,1345.1,1.8,1346.1,1.15,1347.1,1.6,1348.1,1.1,1349.1,1.19,1350.1,1.9,1350.9,2.4,1351.6,3.04,1352.4,1.5,1353.2,1.8,1354.1,1.19,1355.1,1.7,1356.1,1.2,1357,1.9,1358,1.3,1359.1,2.2,1360.3,2.79,1361.2,1.5,1362.2,2.0,1363.1,1.3,1364,1.44,1365,1.9,1366,1.6,1366.5,2.28,1367.5,1.3,1368.5,1.8,1369.5,1.15,1370.5,1.6,1371.5,1.19,1372.5,1.7,1373.5,1.1,1374.5,1.5,1375.5,1.15,1376.5,1.6,1377.5,1.1,1378.3,1.5,1379,1.61,1380,1.1,1381,1.5,1382,1.05,1383,1.4,1384,1.08,1385.2,1.1,1386.2,1.5,1387.2,1.1,1388.2,1.6,1389.2,1.2,1390.1,1.9,1390.9,2.7,1391.8,1.3,1392.7,1.19,1393.7,1.7,1394.7,1.1,1395.7,1.6,1396.7,1.15,1397.7,1.7,1398.7,1.2,1399.5,1.8,1400.1,2.2,1401,1.2,1402,1.7,1403,1.15,1403.9,1.19,1404.8,1.8,1405.6,1.4,1406.4,2.2,1407.3,1.2,1408.3,1.7,1409.3,1.1,1410.3,1.6,1411.4,1.27,1412.4,1.6,1413.3,1.15,1414.2,1.7,1415.1,2.11,1416.1,1.2,1417.1,1.6,1418.1,1.1,1419.1,1.5,1420.2,1.1,1421.3,1.19,1422.3,1.5,1423.3,1.05,1424.3,1.4,1425.3,1.1,1426.3,1.35,1427.3,1.6,1428.3,1.1,1429.3,1.5,1430.3,2.0,1431.3,3.63,1432.3,1.3,1433.8,1.19,1434.8,1.6,1435.8,1.1,1436.8,1.5,1437.8,1.15,1438.7,1.44,1439.7,1.05,1440.7,1.5,1441.7,1.05,1442.7,1.4,1443.7,1.1,1444.7,1.6,1445.6,1.2,1446.5,1.9,1447.5,2.62,1448.5,1.3,1449.5,1.7,1450.4,1.15,1451.2,1.1,1452.1,1.9,1452.9,1.5,1453.7,2.79,1454.7,1.3,1455.7,1.8,1456.7,1.2,1457.7,1.6,1458.7,1.44,1459.7,1.1,1460.7,1.6,1461.7,1.2,1462.7,1.7,1463.6,2.11,1464.6,1.4,1465.5,2.0,1466.5,1.5,1467.4,2.96,1468.3,1.6,1469.1,1.3,1469.9,1.27,1470.9,1.8,1471.8,1.2,1472.7,2.0,1473.6,2.96,1474.5,1.4,1475.3,1.6,1476.1,1.1,1477,1.6,1478,1.15,1478.9,1.7,1479.8,2.36,1480.7,1.3,1481.7,1.6,1482.6,1.1,1483.6,1.19,1484.6,1.7,1485.6,1.1,1486.6,1.6,1487.6,1.3,1488.5,2.36,1489.4,1.2,1490.4,1.5,1491.4,1.05,1492.3,1.1,1493.3,1.5,1494.3,1.05,1495.3,1.4,1496.3,1.1,1497.3,1.94,1498.3,1.15,1499.2,1.4,1500.1,1.05,1501,1.02,1502,1.3,1503,1.0,1504,1.25,1505,1.05,1506,1.1,1507,1.3,1508,1.0,1509,1.4,1510,1.05,1511,1.44,1512,1.1,1513,1.6,1514,1.05,1515,1.3,1515.9,1.1,1516.9,1.6,1517.9,1.2,1518.9,1.8,1519.9,1.3,1520.9,1.94,1521.9,1.6,1522.9,2.5,1523.8,1.9,1524.6,4.3,1525.4,2.0,1526.3,2.6,1527.1,1.94,1528,3.0,1528.8,2.2,1529.6,4.22,1530.5,2.2,1531.3,2.8,1532.1,1.44,1532.9,2.6,1533.8,1.8,1534.6,4.05,1535.5,1.7,1536.3,2.4,1537.1,1.44,1538,2.4,1538.9,1.6,1539.9,2.6,1540.8,3.29,1541.7,1.5,1542.7,2.2,1543.6,1.3,1544.6,1.27,1545.5,2.1,1546.5,1.4,1547.4,2.2,1548.3,2.96,1549.2,1.4,1550.1,2.0,1551,1.2,1552,1.1,1553,1.8,1554,1.2,1555,1.9,1555.8,2.36,1556.7,1.3,1557.5,1.7,1558.3,1.1,1559.2,1.8,1560.1,1.3,1561,2.0,1562,2.53,1562.8,1.4,1563.6,1.8,1564.5,1.02,1565.3,1.7,1566.1,1.2,1567,2.2,1567.9,1.3,1568.7,1.0];
const M5_RIGHT = [1588,1.0,1593,2.0,1598,2.45,1602,1.3,1607,1.02,1612,2.2,1617,2.78,1621,1.4,1626,1.02,1631,2.3,1636,1.3,1641,2.6,1645,2.03,1650,1.2,1654,1.02,1659,2.5,1664,1.5,1668,2.8,1673,4.55,1677,1.6,1682,1.02,1687,2.4,1692,1.3,1697,2.7,1701,2.03,1706,1.2,1711,2.4,1716,1.02,1721,2.9,1725,3.4,1729,4.98,1733,1.8,1738,1.02,1743,2.6,1748,1.4,1752,2.9,1757,3.29,1762,1.5,1766,1.02,1771,2.5,1776,3.29,1780,1.6,1785,2.4,1790,1.3,1794,1.61,1799,2.7,1804,1.5,1808,3.0,1813,2.87,1818,1.4,1822,2.2,1827,1.3,1832,1.02,1836,2.3,1841,1.5,1846,2.8,1850,2.45,1855,1.2,1860,2.5,1864,1.6,1869,1.35,1874,2.7,1878,1.8,1883,3.1,1888,3.29,1893,1.6,1897,2.4,1902,1.3,1907,1.02,1911,2.6,1916,1.8,1920,3.0,1925,3.46,1930,2.0,1935,3.2,1940,2.5,1944,4.22,1948,1.8,1953,1.02,1958,2.4,1962,1.5,1967,2.8,1972,1.7,1976,2.9,1981,2.45,1986,1.6,1990,3.0,1995,2.0,2000,3.3,2005,2.4,2009,3.63,2014,2.2,2018,3.0,2023,1.8,2028,2.03,2033,3.0,2038,4.13,2042,2.0,2047,2.6,2052,1.5,2056,1.61,2061,2.5,2066,1.6,2070,2.4,2075,1.3,2080,2.2,2084,1.5,2089,2.6,2094,2.03,2098,1.3,2103,2.0,2108,1.2,2112,1.9,2117,1.1,2122,1.8,2126,1.2,2131,1.02,2136,1.9,2140,1.3,2145,2.0,2150,1.4,2154,2.2,2159,1.3,2164,2.0,2168,1.61,2173,1.2,2178,2.1,2182,1.4,2187,2.3,2192,1.5,2197,1.18,2201,2.2,2206,1.6,2211,2.5,2215,1.8,2220,2.7,2225,2.45,2229,1.9,2234,2.8,2239,2.0,2243,3.0,2248,2.2,2253,2.9,2257,2.3,2262,2.62,2267,2.0,2271,3.0,2276,2.4,2281,3.29,2285,2.5,2290,3.2,2295,2.4,2300,2.03,2304,3.0,2309,2.6,2314,3.4,2318,3.71,2323,2.8,2328,3.3,2332,2.6,2337,2.87,2342,3.5,2346,2.9,2351,3.4,2356,3.71,2361,3.0,2365,3.6,2370,3.3,2375,4.0,2380,3.6,2384,4.64,2389,3.5,2393,3.8,2398,3.0,2403,3.5,2407,2.8,2412,3.29,2417,2.6,2421,3.2,2426,2.4,2430,2.45,2435,3.1,2440,2.3,2444,2.8,2449,2.03,2454,2.9,2458,2.4,2463,3.2,2468,2.87,2473,3.3,2477,2.6,2482,3.4,2487,2.9,2491,3.5,2496,3.0,2500,3.6,2505,3.29,2510,3.8,2515,3.2,2520,3.9,2524,3.4,2529,4.0,2534,3.3,2538,3.8,2543,3.97,2548,3.4,2552,3.9,2557,3.2,2562,3.6,2566,3.1,2571,3.7,2576,3.4,2580,3.63,2585,3.9,2590,4.1,2594,3.8,2599,4.3,2604,3.9,2608,4.2,2613,4.0,2618,4.2,2622,3.9,2627,4.34,2632,3.0,2637,2.3,2641,2.0,2646,1.77,2650,2.3,2655,2.1,2659,2.7,2664,2.45,2669,3.0,2674,2.6,2678,3.1,2683,2.7,2688,3.4,2692,3.29,2697,2.7,2702,3.1,2706,2.5,2711,2.9,2716,2.4,2720,2.79,2725,3.2,2730,3.5,2734,2.9,2739,3.3,2744,2.8,2749,3.29,2753,2.7,2758,3.1,2763,2.5,2767,3.0,2772,2.6,2777,3.1,2781,2.5,2786,2.87,2791,2.5,2795,3.2,2800,3.5,2805,4.98,2809,2.6,2814,2.03,2819,2.6,2823,2.2,2828,2.9,2833,2.4,2837,3.0,2842,2.79,2847,3.3,2851,2.7,2856,3.2,2861,2.8,2866,3.3,2870,2.9,2875,3.4,2880,3.21,2885,2.8,2890,3.1,2895,2.6,2900,3.0,2905,2.7,2910,3.1,2917,2.79,2924,3.0,2931,2.6,2938,3.1,2945,2.8,2954,2.95,2962,2.5,2970,2.9,2978,2.4,2985,2.8,2992,2.62,3000,2.3,3010,2.2,3020,2.11,3030,2.5,3040,2.3,3048,2.45,3055,2.9,3062,3.2,3069,3.0,3076,3.8,3084,3.5,3092,3.7,3100,3.4,3110,3.6,3123,3.38,3132,3.6,3141,3.71,3150,3.4,3160,3.6,3170,3.3,3179,3.29,3188,3.5,3197,3.8,3206,3.6,3216,3.71,3225,3.9,3235,4.1,3244,3.9,3254,4.3,3263,3.8,3272,3.9,3281,3.6,3291,3.63,3300,3.9,3310,3.7,3319,4.0,3328,3.8,3338,4.1,3347,4.22,3356,3.9,3366,4.0,3375,3.7,3385,3.71,3394,3.5,3403,3.4,3412,3.3,3422,3.29,3431,3.2,3440,3.35,3450,3.15,3459,3.12,3469,3.3,3478,3.2,3488,3.4,3497,3.2,3507,3.45,3516,3.38,3525,3.5,3535,3.3,3544,3.4,3553,3.29,3563,3.5,3572,3.4,3581,3.6,3591,3.5,3600,3.7,3609,3.71,3619,3.6,3628,3.8,3637,3.65,3647,3.85,3656,3.7,3665,3.8,3675,3.5,3684,3.45,3694,3.3,3703,3.38,3712,3.5,3722,3.4,3731,3.6,3740,3.46,3750,3.65,3759,3.55,3769,3.75,3778,3.8,3787,3.6,3797,3.75,3806,3.6,3815,3.71,3825,3.55,3834,3.7,3843,3.55,3852,3.63,3862,3.8,3871,3.7,3880,3.9,3890,3.8,3899,4.0,3909,3.97,3918,4.1,3927,4.0,3936,4.39,3946,4.0,3955,4.13,3964,4.5,3974,4.47,3983,4.1,3993,4.3];

const SERIES_NAMES = ['A0', 'F0', 'G0', 'K0', 'M0', 'M5'];
const LEFT_SERIES = [A0_LEFT, F0_LEFT, G0_LEFT, K0_LEFT, M0_LEFT, M5_LEFT];
const RIGHT_SERIES = [A0_RIGHT, F0_RIGHT, G0_RIGHT, K0_RIGHT, M0_RIGHT, M5_RIGHT];

const Y_TICK_EXPONENTS = [-5, -2, 1, 4, 7, 10, 13, 16];
const X_TICKS_LEFT = [1200, 1300, 1400, 1500];
const X_TICKS_RIGHT = [2000, 3000, 4000];
const LINE_NAMES_LEFT: [string, number][] = [['Lyα', 1214.2], ['C II', 1318], ['Si IV', 1393.6], ['C IV', 1535.8]];
const LINE_NAMES_RIGHT: [string, number][] = [['Mg II', 2786]];

// ---------------- layout & style ----------------
const W = 1739, H = 1069;
const PLOT_TOP = 24, PLOT_BOTTOM = 921.5;
const LEFT_PANEL = { left: 217, right: 952.5, min: 1160, max: 1570 };
const RIGHT_PANEL = { left: 966.5, right: 1702.5, min: 1580, max: 5510 };
const Y_MIN_EXP = -5, Y_MAX_EXP = 17.686;
const LINE_LABEL_EXP = -2.11;
const SERIES_LABEL_X = 4061;
const SERIES_LABEL_EXP = [16.23, 14.96, 12.68, 10.6, 6.33, 3.8];

const LINE_COLORS = ['#ec7493', '#f68a4c', '#f8bb3e', '#a3d6cb', '#58aeea', '#8c3b80'];
const LABEL_COLORS = ['#e6577f', '#f26f26', '#f4a51f', '#7fc5b5', '#2f93d9', '#6e1e5b'];
const AXIS_COLOR = '#bdbdbd';
const TEXT_COLOR = '#5c5c5c';
const NOTE_COLOR = '#727272';
const FONT = '"Noto Sans", "DejaVu Sans", sans-serif';

function toPoints(flat: number[]) {
  const pts: { x: number; y: number }[] = [];
  for (let i = 0; i + 1 < flat.length; i += 2) pts.push({ x: flat[i], y: Math.pow(10, flat[i + 1]) });
  return pts;
}

function drawYLabel(ctx: CanvasRenderingContext2D, exp: number, xRight: number, y: number) {
  const sup = exp < 0 ? '\u2212' + Math.abs(exp) : String(exp);
  ctx.fillStyle = TEXT_COLOR;
  ctx.textBaseline = 'alphabetic';
  ctx.font = `22px ${FONT}`;
  const sw = ctx.measureText(sup).width;
  ctx.textAlign = 'left';
  ctx.fillText(sup, xRight - sw, y + 3);
  ctx.font = `39px ${FONT}`;
  ctx.textAlign = 'right';
  ctx.fillText('10', xRight - sw - 3, y + 15);
}

function makeConfig(side: 'left' | 'right'): any {
  const panel = side === 'left' ? LEFT_PANEL : RIGHT_PANEL;
  const series = side === 'left' ? LEFT_SERIES : RIGHT_SERIES;
  const datasets = series.map((arr, i) => ({
    label: SERIES_NAMES[i],
    data: toPoints(arr),
    borderColor: LINE_COLORS[i],
    borderWidth: 2.7,
    pointRadius: 0,
    tension: 0,
    borderJoinStyle: 'round',
    fill: false,
    order: SERIES_NAMES.length - i,
    clip: 1,
  }));

  const axesPlugin = {
    id: 'axes-' + side,
    afterDatasetsDraw(chart: any) {
      const { ctx, chartArea: ca } = chart;
      const xs = chart.scales.x, ys = chart.scales.y;
      ctx.save();
      ctx.strokeStyle = AXIS_COLOR;
      ctx.lineWidth = 2;
      ctx.beginPath();
      if (side === 'left') {
        ctx.moveTo(ca.right, ca.top); ctx.lineTo(ca.left, ca.top);
        ctx.lineTo(ca.left, ca.bottom); ctx.lineTo(ca.right, ca.bottom);
      } else {
        ctx.moveTo(ca.left, ca.top); ctx.lineTo(ca.right, ca.top);
        ctx.lineTo(ca.right, ca.bottom); ctx.lineTo(ca.left, ca.bottom);
      }
      ctx.stroke();

      ctx.beginPath();
      for (const e of Y_TICK_EXPONENTS) {
        const py = ys.getPixelForValue(Math.pow(10, e));
        if (side === 'left') { ctx.moveTo(ca.left, py); ctx.lineTo(ca.left + 14, py); }
        else { ctx.moveTo(ca.right - 14, py); ctx.lineTo(ca.right, py); }
      }
      const xt = side === 'left' ? X_TICKS_LEFT : X_TICKS_RIGHT;
      for (const t of xt) {
        const px = xs.getPixelForValue(t);
        ctx.moveTo(px, ca.bottom); ctx.lineTo(px, ca.bottom - 13);
      }
      ctx.stroke();

      ctx.fillStyle = TEXT_COLOR;
      ctx.font = `39px ${FONT}`;
      ctx.textAlign = 'center';
      ctx.textBaseline = 'alphabetic';
      for (const t of xt) ctx.fillText(String(t), xs.getPixelForValue(t), ca.bottom + 50);

      ctx.fillStyle = NOTE_COLOR;
      ctx.font = `38px ${FONT}`;
      ctx.textAlign = 'center';
      const ly = ys.getPixelForValue(Math.pow(10, LINE_LABEL_EXP));
      for (const [name, wl] of side === 'left' ? LINE_NAMES_LEFT : LINE_NAMES_RIGHT) {
        ctx.fillText(name, xs.getPixelForValue(wl), ly);
      }

      if (side === 'left') {
        for (const e of Y_TICK_EXPONENTS) drawYLabel(ctx, e, 202, ys.getPixelForValue(Math.pow(10, e)));
        ctx.fillStyle = TEXT_COLOR;
        ctx.font = `bold 42px ${FONT}`;
        ctx.textAlign = 'center';
        ctx.textBaseline = 'middle';
        ctx.fillText('Wavelength (Å)', 902, 1020);
        ctx.save();
        ctx.translate(63, 494);
        ctx.rotate(-Math.PI / 2);
        ctx.fillText('Flux Density with Offset (erg/s/cm²/Å)', 0, 0);
        ctx.restore();
      } else {
        ctx.font = `37px ${FONT}`;
        ctx.textAlign = 'left';
        ctx.textBaseline = 'alphabetic';
        SERIES_NAMES.forEach((name, i) => {
          ctx.fillStyle = LABEL_COLORS[i];
          ctx.fillText(name, xs.getPixelForValue(SERIES_LABEL_X), ys.getPixelForValue(Math.pow(10, SERIES_LABEL_EXP[i])));
        });
      }
      ctx.restore();
    },
  };

  return {
    type: 'line',
    data: { datasets },
    options: {
      responsive: false,
      maintainAspectRatio: false,
      animation: false,
      devicePixelRatio: 1,
      events: [],
      layout: { padding: { left: panel.left, right: W - panel.right, top: PLOT_TOP, bottom: H - PLOT_BOTTOM } },
      scales: {
        x: { type: 'linear', min: panel.min, max: panel.max, display: false },
        y: { type: 'logarithmic', min: Math.pow(10, Y_MIN_EXP), max: Math.pow(10, Y_MAX_EXP), display: false },
      },
      plugins: { legend: { display: false }, tooltip: { enabled: false }, title: { display: false } },
    },
    plugins: [axesPlugin],
  };
}

export default function App() {
  const leftRef = useRef<HTMLCanvasElement>(null);
  const rightRef = useRef<HTMLCanvasElement>(null);

  useEffect(() => {
    const c1 = new Chart(leftRef.current as HTMLCanvasElement, makeConfig('left'));
    const c2 = new Chart(rightRef.current as HTMLCanvasElement, makeConfig('right'));
    return () => { c1.destroy(); c2.destroy(); };
  }, []);

  return (
    <div style={{ position: 'fixed', left: 0, top: 0, width: W, height: H, background: '#2e2c47', overflow: 'hidden' }}>
      <div style={{ position: 'absolute', left: 14, top: 3, width: 1715, height: 1085, background: '#c9d6de', borderRadius: 8 }} />
      <div style={{ position: 'absolute', left: 21, top: 9, width: 1701, height: 1057, background: '#ffffff' }} />
      <canvas ref={leftRef} width={W} height={H} style={{ position: 'absolute', left: 0, top: 0, width: W, height: H }} />
      <canvas ref={rightRef} width={W} height={H} style={{ position: 'absolute', left: 0, top: 0, width: W, height: H }} />
    </div>
  );
}
